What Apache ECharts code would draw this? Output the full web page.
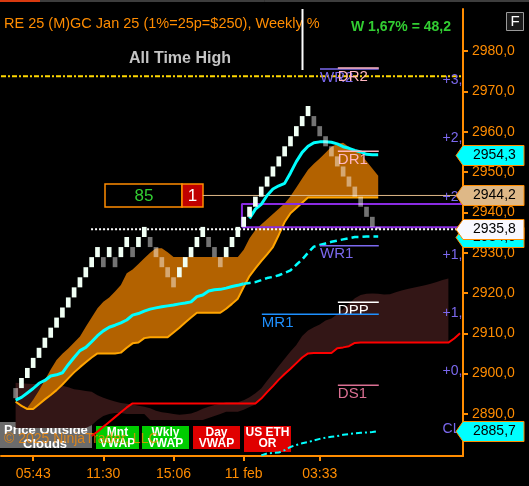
<!DOCTYPE html>
<html>
<head>
<meta charset="utf-8">
<script src="https://cdn.jsdelivr.net/npm/echarts@6/dist/echarts.min.js"></script>
<style>
  html, body { margin: 0; padding: 0; background: #000; }
  #main { width: 529px; height: 486px; }
</style>
</head>
<body>
<div id="main"></div>
<script>
// x axis: one slot per renko brick
const xLabelIdx = [5, 17, 29, 41, 54];
const xLabelText = ['05:43', '11:30', '15:06', '11 feb', '03:33'];
const yTicks = [2890, 2900, 2910, 2920, 2930, 2940, 2950, 2960, 2970, 2980];

// renko bricks (box 2.5), first brick at slot 2
const renkoStart = 2;
const renkoOpen = [
  2896.4, 2896.4, 2898.9, 2901.4, 2903.9, 2906.4, 2908.9, 2911.4, 2913.9, 2916.4,
  2918.9, 2921.4, 2923.9, 2926.4, 2928.9, 2928.9, 2928.9, 2928.9, 2928.9, 2931.4,
  2931.4, 2931.4, 2933.9, 2933.9, 2931.4, 2928.9, 2926.4, 2923.9, 2923.9, 2926.4,
  2928.9, 2931.4, 2933.9, 2933.9, 2931.4, 2928.9, 2928.9, 2931.4, 2933.9, 2936.4,
  2938.9, 2941.4, 2943.9, 2946.4, 2948.9, 2951.4, 2953.9, 2956.4, 2958.9, 2961.4,
  2963.9, 2963.9, 2961.4, 2958.9, 2956.4, 2953.9, 2951.4, 2948.9, 2946.4, 2943.9,
  2941.4, 2938.9, 2936.4
];
const renkoClose = [
  2893.9, 2898.9, 2901.4, 2903.9, 2906.4, 2908.9, 2911.4, 2913.9, 2916.4, 2918.9,
  2921.4, 2923.9, 2926.4, 2928.9, 2931.4, 2926.4, 2931.4, 2926.4, 2931.4, 2933.9,
  2928.9, 2933.9, 2936.4, 2931.4, 2928.9, 2926.4, 2923.9, 2921.4, 2926.4, 2928.9,
  2931.4, 2933.9, 2936.4, 2931.4, 2928.9, 2926.4, 2931.4, 2933.9, 2936.4, 2938.9,
  2941.4, 2943.9, 2946.4, 2948.9, 2951.4, 2953.9, 2956.4, 2958.9, 2961.4, 2963.9,
  2966.4, 2961.4, 2958.9, 2956.4, 2953.9, 2951.4, 2948.9, 2946.4, 2943.9, 2941.4,
  2938.9, 2936.4, 2935.8
];

// cyan vwap (solid up to dashFrom, dashed after)
const cyanAStart = 2;
const cyanADashFrom = 41;
const cyanA = [
  2893.4, 2894.1, 2895.2, 2896.3, 2897.6, 2898.3, 2899.4, 2899.7, 2900.2, 2902.2,
  2904.0, 2905.7, 2906.5, 2907.9, 2909.4, 2910.6, 2911.5, 2912.0, 2912.6, 2913.3,
  2914.5, 2914.9, 2915.5, 2916.0, 2916.3, 2916.6, 2916.8, 2917.0, 2917.3, 2917.5,
  2917.8, 2919.1, 2919.5, 2920.5, 2920.8, 2920.9, 2921.2, 2921.6, 2921.9, 2922.3,
  2922.5, 2922.7, 2923.2, 2923.7, 2924.0, 2924.4, 2925.0, 2925.6, 2927.0, 2928.3,
  2930.0, 2931.5, 2931.9, 2932.3, 2932.7, 2933.0, 2933.3, 2933.6, 2933.9, 2933.9,
  2934.0, 2934.0, 2934.0
];
const cyanBStart = 42;
const cyanB = [
  2938.5, 2940.8, 2942.0, 2944.2, 2945.8, 2946.6, 2947.2, 2949.8, 2952.6, 2954.9,
  2956.4, 2957.3, 2957.5, 2957.5, 2957.4, 2957.0, 2956.3, 2955.9, 2955.4, 2955.0,
  2954.4, 2954.3, 2954.3
];
const cyanCStart = 44;
const cyanC = [
  2879.7, 2880.2, 2880.3, 2880.4, 2881.0, 2881.8, 2882.3, 2882.7, 2883.0, 2883.4,
  2883.8, 2884.1, 2884.3, 2884.5, 2884.8, 2885.0, 2885.2, 2885.3, 2885.4, 2885.5,
  2885.7
];

// orange cloud
const cloudStart = 2;
const cloudUpper = [
  2893.1, 2892.2, 2891.5, 2893.5, 2895.8, 2898.4, 2901.0, 2903.4, 2904.9, 2906.2,
  2907.7, 2909.2, 2911.6, 2913.9, 2916.2, 2917.8, 2918.9, 2920.4, 2922.0, 2924.9,
  2925.8, 2927.2, 2928.6, 2930.0, 2931.1, 2931.1, 2930.1, 2928.9, 2928.9, 2928.9,
  2928.9, 2928.9, 2928.9, 2928.9, 2928.9, 2928.9, 2928.9, 2928.9, 2928.9, 2930.7,
  2933.6, 2935.6, 2937.0, 2938.3, 2939.6, 2940.9, 2942.2, 2944.0, 2946.2, 2948.4,
  2950.6, 2952.1, 2953.4, 2954.8, 2956.3, 2957.0, 2957.3, 2956.2, 2955.5, 2954.6,
  2952.7, 2950.9, 2949.1
];
const cloudLower = [
  2893.0, 2892.0, 2891.2, 2891.2, 2892.4, 2893.6, 2894.7, 2895.9, 2897.3, 2898.8,
  2900.3, 2901.6, 2902.8, 2904.0, 2905.0, 2905.0, 2905.0, 2905.0, 2905.2, 2906.4,
  2907.5, 2907.7, 2908.8, 2909.0, 2909.0, 2909.0, 2909.0, 2910.2, 2911.4, 2912.7,
  2913.9, 2915.1, 2915.1, 2915.1, 2915.1, 2915.1, 2916.1, 2917.3, 2918.6, 2921.5,
  2924.2, 2926.1, 2927.9, 2929.6, 2931.4, 2934.4, 2937.6, 2939.8, 2941.1, 2942.4,
  2943.7, 2943.7, 2943.7, 2943.7, 2943.7, 2943.7, 2943.7, 2943.7, 2943.7, 2943.7,
  2943.7, 2943.7, 2943.7
];

// dark cloud
const brownStart = 2;
const brownTop = [
  2897.7, 2897.6, 2897.5, 2897.4, 2897.4, 2897.3, 2897.3, 2897.2, 2897.0, 2896.6,
  2896.1, 2895.9, 2895.7, 2895.5, 2894.6, 2894.0, 2893.5, 2893.1, 2892.7, 2892.5,
  2892.3, 2892.0, 2891.8, 2891.4, 2890.8, 2890.4, 2890.2, 2890.0, 2889.8, 2889.9,
  2890.1, 2890.6, 2891.3, 2891.8, 2892.2, 2892.5, 2892.9, 2892.9, 2892.9, 2893.4,
  2894.1, 2895.1, 2896.3, 2898.2, 2900.0, 2901.9, 2903.7, 2905.5, 2907.1, 2909.3,
  2910.7, 2911.5, 2912.2, 2913.2, 2913.7, 2914.7, 2916.0, 2917.3, 2918.7, 2919.5,
  2919.8, 2919.9, 2919.8, 2919.6, 2919.7, 2920.2, 2920.6, 2921.0, 2921.3, 2921.6,
  2921.9, 2922.3, 2922.7, 2923.2, 2923.6
];
const brownBottom = [
  2886.5, 2886.5, 2886.5, 2886.5, 2886.5, 2886.5, 2886.5, 2886.5, 2886.5, 2886.5,
  2886.5, 2886.5, 2886.5, 2887.2, 2888.5, 2889.5, 2890.0, 2890.2, 2890.2, 2890.0,
  2890.0, 2890.0, 2890.0, 2888.5, 2888.5, 2888.5, 2888.5, 2888.5, 2888.5, 2888.5,
  2888.5, 2888.5, 2888.5, 2889.0, 2889.5, 2890.0, 2890.5, 2890.5, 2890.5, 2891.0,
  2891.7, 2892.3, 2893.8, 2895.4, 2896.9, 2898.5, 2899.9, 2901.2, 2902.6, 2904.0,
  2905.0, 2905.1, 2905.1, 2905.1, 2905.1, 2906.3, 2906.5, 2906.8, 2907.6, 2907.7,
  2907.7, 2907.7, 2907.7, 2907.7, 2907.7, 2907.7, 2907.7, 2907.7, 2907.7, 2907.7,
  2907.7, 2907.7, 2907.7, 2907.7, 2907.7
];

// red line
const redStart = 15;
const redLine = [
  2884.5, 2885.6, 2886.8, 2888.0, 2889.2, 2890.4, 2891.6, 2892.6, 2892.6, 2892.6,
  2892.6, 2892.6, 2892.6, 2892.6, 2892.6, 2892.6, 2892.6, 2892.6, 2892.6, 2892.6,
  2892.6, 2892.6, 2892.6, 2892.6, 2892.6, 2892.6, 2892.6, 2892.6, 2892.6, 2893.8,
  2895.4, 2896.9, 2898.5, 2899.9, 2901.2, 2902.6, 2904.0, 2905.0, 2905.1, 2905.1,
  2905.1, 2905.1, 2906.3, 2906.5, 2906.8, 2907.6, 2907.7, 2907.7, 2907.7, 2907.7,
  2907.7, 2907.7, 2907.7, 2907.7, 2907.7, 2907.7, 2907.7, 2907.7, 2907.7, 2907.7,
  2907.7, 2907.7, 2908.7, 2910.0
];

// pivots
const pivotNames = ['WR2', 'DR2', 'DR1', 'WR1', 'DPP', 'MR1', 'DS1'];
const pivotValues = [2975.6, 2975.8, 2955.2, 2931.7, 2917.7, 2914.7, 2897.1];
const pivotFrom = [54.05, 57.1, 57.1, 54.05, 57.1, 44.1, 57.1];
const pivotTo = [64.1, 64.1, 64.1, 64.1, 64.1, 64.1, 64.1];

// weekly % levels
const wkLabels = ['CL', '+0,5', '+1,0', '+1,5', '+2,0', '+2,5', '+3,0'];
const wkLevels = [2885.7, 2900.1, 2914.6, 2929.0, 2943.4, 2957.9, 2972.3];

// misc levels
const athValue = 2973.8;
const lastPrice = 2935.8;
const targetLevel = 2944.2;
const orHigh = 2942.1;
const orLow = 2936.3;
const orStart = 40.7;

// price tags on the right axis
const tagValues = [2934.0, 2954.3, 2944.2, 2935.8, 2885.7];

const FONT = 'Arial, "Liberation Sans", sans-serif';
const ORANGE = '#ff8c00';
const CYAN = '#00ffff';
const X_END = 78.5;
const tagFill = ['#00ffff', '#00ffff', '#deb887', '#f8f8ff', '#00ffff'];
const pivotColor = { WR2: '#7b68ee', DR2: '#ffb6c1', DR1: '#ffb6c1', WR1: '#7b68ee', DPP: '#ffffff', MR1: '#1e90ff', DS1: '#db7093' };

function pairs(start, vals) {
  return vals.map((v, i) => [start + i, v]);
}
function fmt(v) {
  return v.toFixed(1).replace('.', ',');
}

function bandSeries(start, upper, lower, fill, z) {
  return {
    type: 'custom', coordinateSystem: 'cartesian2d', silent: true, clip: true, z: z,
    data: [[start, upper[0]]],
    encode: { x: 0, y: 1 },
    renderItem: function (params, api) {
      const pts = [];
      upper.forEach((v, i) => pts.push(api.coord([start + i, v])));
      for (let i = lower.length - 1; i >= 0; i--) pts.push(api.coord([start + i, lower[i]]));
      return { type: 'polygon', shape: { points: pts }, style: { fill: fill } };
    }
  };
}

function lineSeries(data, color, width, type, z) {
  return {
    type: 'line', data: data, showSymbol: false, symbol: 'none', silent: true, z: z,
    lineStyle: { color: color, width: width, type: type || 'solid' }
  };
}

function txt(x, y, text, fill, font, align) {
  return { type: 'text', x: x, y: y, style: { text: text, fill: fill, font: font + ' ' + FONT, align: align || 'left', verticalAlign: 'middle' } };
}
function box(x, y, w, h, fill) {
  return { type: 'rect', shape: { x: x, y: y, width: w, height: h }, style: { fill: fill } };
}

const chart = echarts.init(document.getElementById('main'));
chart.setOption({
  backgroundColor: '#000',
  animation: false,
  grid: { left: 1, right: 66, top: 9, bottom: 30 },
  xAxis: {
    type: 'value', min: -0.5, max: X_END,
    axisLine: { onZero: false, lineStyle: { color: ORANGE, width: 2 } },
    axisTick: { customValues: xLabelIdx, length: 5, lineStyle: { color: ORANGE, width: 2 } },
    axisLabel: {
      customValues: xLabelIdx, color: ORANGE, fontSize: 14, fontFamily: FONT, margin: 11,
      formatter: v => xLabelText[xLabelIdx.indexOf(v)] || ''
    },
    splitLine: { show: false }
  },
  yAxis: {
    type: 'value', position: 'right', min: 2879.55, max: 2990.47,
    axisLine: { show: true, onZero: false, lineStyle: { color: ORANGE, width: 2 } },
    axisTick: { show: true, customValues: yTicks, length: 5, lineStyle: { color: ORANGE, width: 2 } },
    axisLabel: { customValues: yTicks, color: ORANGE, fontSize: 14, fontFamily: FONT, margin: 9, formatter: v => fmt(v) },
    splitLine: { show: false }
  },
  series: [
    bandSeries(brownStart, brownTop, brownBottom, '#331616', 1),
    bandSeries(cloudStart, cloudUpper, cloudLower, '#b36200', 2),
    lineSeries(pairs(cloudStart, cloudLower), '#ffa500', 2, 'solid', 3),
    lineSeries(pairs(redStart, redLine), '#ff0000', 2, 'solid', 3),
    lineSeries([[-0.5, athValue], [X_END, athValue]], '#ffd700', 2, [5, 2, 2, 2], 3),
    lineSeries([[orStart, orLow], [orStart, orHigh], [X_END, orHigh]], '#8a2be2', 2, 'solid', 3),
    lineSeries([[orStart, orLow], [X_END, orLow]], '#8a2be2', 2, 'solid', 3),
    lineSeries([[34, targetLevel], [X_END, targetLevel]], '#deb887', 1, 'solid', 3),
    lineSeries([[14.9, lastPrice], [X_END, lastPrice]], '#ffffff', 2, [2, 2], 3),
    lineSeries(pairs(cyanCStart, cyanC), CYAN, 2, [6, 3, 2, 3], 4),
    lineSeries(pairs(cyanAStart, cyanA).filter(p => p[0] <= cyanADashFrom), CYAN, 3, 'solid', 4),
    lineSeries(pairs(cyanAStart, cyanA).filter(p => p[0] >= cyanADashFrom), CYAN, 2.5, [7, 4], 4),
    lineSeries(pairs(cyanBStart, cyanB), CYAN, 3, 'solid', 4),
    {
      // pivot segments with names
      type: 'custom', coordinateSystem: 'cartesian2d', silent: true, z: 5,
      data: pivotNames.map((n, i) => [pivotFrom[i], pivotValues[i], pivotTo[i], i]),
      encode: { x: [0, 2], y: 1 },
      renderItem: function (params, api) {
        const i = api.value(3);
        const a = api.coord([api.value(0), api.value(1)]);
        const b = api.coord([api.value(2), api.value(1)]);
        const col = pivotColor[pivotNames[i]];
        return {
          type: 'group', children: [
            { type: 'line', shape: { x1: a[0], y1: a[1], x2: b[0], y2: b[1] }, style: { stroke: col, lineWidth: 1.5 } },
            { type: 'text', x: a[0], y: a[1] + 1, style: { text: pivotNames[i], fill: col, font: '15px ' + FONT, verticalAlign: 'top' } }
          ]
        };
      }
    },
    {
      // renko bricks
      type: 'custom', coordinateSystem: 'cartesian2d', silent: true, z: 6,
      data: renkoOpen.map((o, i) => [renkoStart + i, o, renkoClose[i]]),
      encode: { x: 0, y: [1, 2] },
      renderItem: function (params, api) {
        const x = api.value(0), o = api.value(1), c = api.value(2);
        const top = api.coord([x, Math.max(o, c)]);
        const bot = api.coord([x, Math.min(o, c)]);
        const w = api.size([1, 0])[0] * 0.8;
        return {
          type: 'rect',
          shape: { x: top[0] - w / 2, y: top[1], width: w, height: bot[1] - top[1] },
          style: { fill: c >= o ? '#f0fff4' : 'rgba(255,255,255,0.45)' }
        };
      }
    },
    {
      // weekly % labels, cut by the axis
      type: 'custom', coordinateSystem: 'cartesian2d', silent: true, clip: true, z: 7,
      data: wkLevels.map((v, i) => [75, v, i]),
      encode: { x: 0, y: 1 },
      renderItem: function (params, api) {
        const p = api.coord([api.value(0), api.value(1)]);
        return { type: 'text', x: p[0], y: p[1] - 2, style: { text: wkLabels[api.value(2)], fill: '#7b68ee', font: '14px ' + FONT, verticalAlign: 'middle' } };
      }
    },
    {
      // price tags
      type: 'custom', coordinateSystem: 'cartesian2d', silent: true, clip: false, z: 20,
      data: tagValues.map((v, i) => [X_END, v, i]),
      encode: { x: 0, y: 1 },
      renderItem: function (params, api) {
        const i = api.value(2);
        const p = api.coord([api.value(0), api.value(1)]);
        const x = p[0], y = Math.round(p[1]) + 0.5;
        return {
          type: 'group', children: [
            { type: 'polygon', shape: { points: [[x - 7, y], [x, y - 10], [x + 61, y - 10], [x + 61, y + 10], [x, y + 10]] }, style: { fill: tagFill[i], stroke: ORANGE, lineWidth: 1 } },
            { type: 'text', x: x + 10, y: y, style: { text: fmt(api.value(1)), fill: '#000', font: '14px ' + FONT, verticalAlign: 'middle' } }
          ]
        };
      }
    }
  ],
  graphic: [
    {
      type: 'group', z: 100,
      children: [
        { type: 'line', shape: { x1: 0, y1: 1, x2: 529, y2: 1 }, style: { stroke: '#7a7a7a', lineWidth: 1 } },
        box(0, 0, 40, 2, '#d83a10'),
        txt(4, 24, 'RE 25 (M)GC Jan 25 (1%=25p=$250), Weekly %', ORANGE, '14.5px'),
        txt(351, 27, 'W 1,67% = 48,2', '#32cd32', 'bold 14px'),
        { type: 'rect', shape: { x: 506.5, y: 12.5, width: 17, height: 18 }, style: { fill: '#1a1a1a', stroke: '#9a9a9a', lineWidth: 1 } },
        txt(515, 22, 'F', '#fff', '15px', 'center'),
        txt(129, 59, 'All Time High', '#c4c4c4', 'bold 16px'),
        { type: 'line', shape: { x1: 302.5, y1: 9, x2: 302.5, y2: 70 }, style: { stroke: '#fff', lineWidth: 2 } },
        { type: 'rect', shape: { x: 105, y: 184, width: 77, height: 23 }, style: { fill: '#000', stroke: ORANGE, lineWidth: 1.5 } },
        { type: 'rect', shape: { x: 182, y: 184, width: 21, height: 23 }, style: { fill: '#c00000', stroke: ORANGE, lineWidth: 1.5 } },
        txt(144, 196, '85', '#32cd32', '17px', 'center'),
        txt(192.5, 196, '1', '#fff', '17px', 'center'),
        box(0, 422, 92, 26, 'rgba(120,120,120,0.9)'),
        txt(4, 430, 'Price Outside', '#fff', 'bold 13px'),
        txt(23, 444, 'Clouds', '#fff', 'bold 13px'),
        box(96, 426, 43, 23, '#00cc00'),
        txt(117.5, 433, 'Mnt', '#fff', 'bold 12px', 'center'),
        txt(117.5, 444, 'VWAP', '#fff', 'bold 12px', 'center'),
        box(142, 426, 47, 23, '#00cc00'),
        txt(165.5, 433, 'Wkly', '#fff', 'bold 12px', 'center'),
        txt(165.5, 444, 'VWAP', '#fff', 'bold 12px', 'center'),
        box(193, 426, 47, 23, '#e00000'),
        txt(216.5, 433, 'Day', '#fff', 'bold 12px', 'center'),
        txt(216.5, 444, 'VWAP', '#fff', 'bold 12px', 'center'),
        box(244, 426, 47, 26, '#e00000'),
        txt(267.5, 433, 'US ETH', '#fff', 'bold 12px', 'center'),
        txt(267.5, 444, 'OR', '#fff', 'bold 12px', 'center')
      ]
    },
    {
      type: 'text', z: 200, x: 4, y: 439,
      style: { text: '© 2025 NinjaTrader, LLC', fill: 'rgba(255,140,0,0.75)', font: '14px ' + FONT, align: 'left', verticalAlign: 'middle' }
    }
  ]
});
</script>
</body>
</html>
